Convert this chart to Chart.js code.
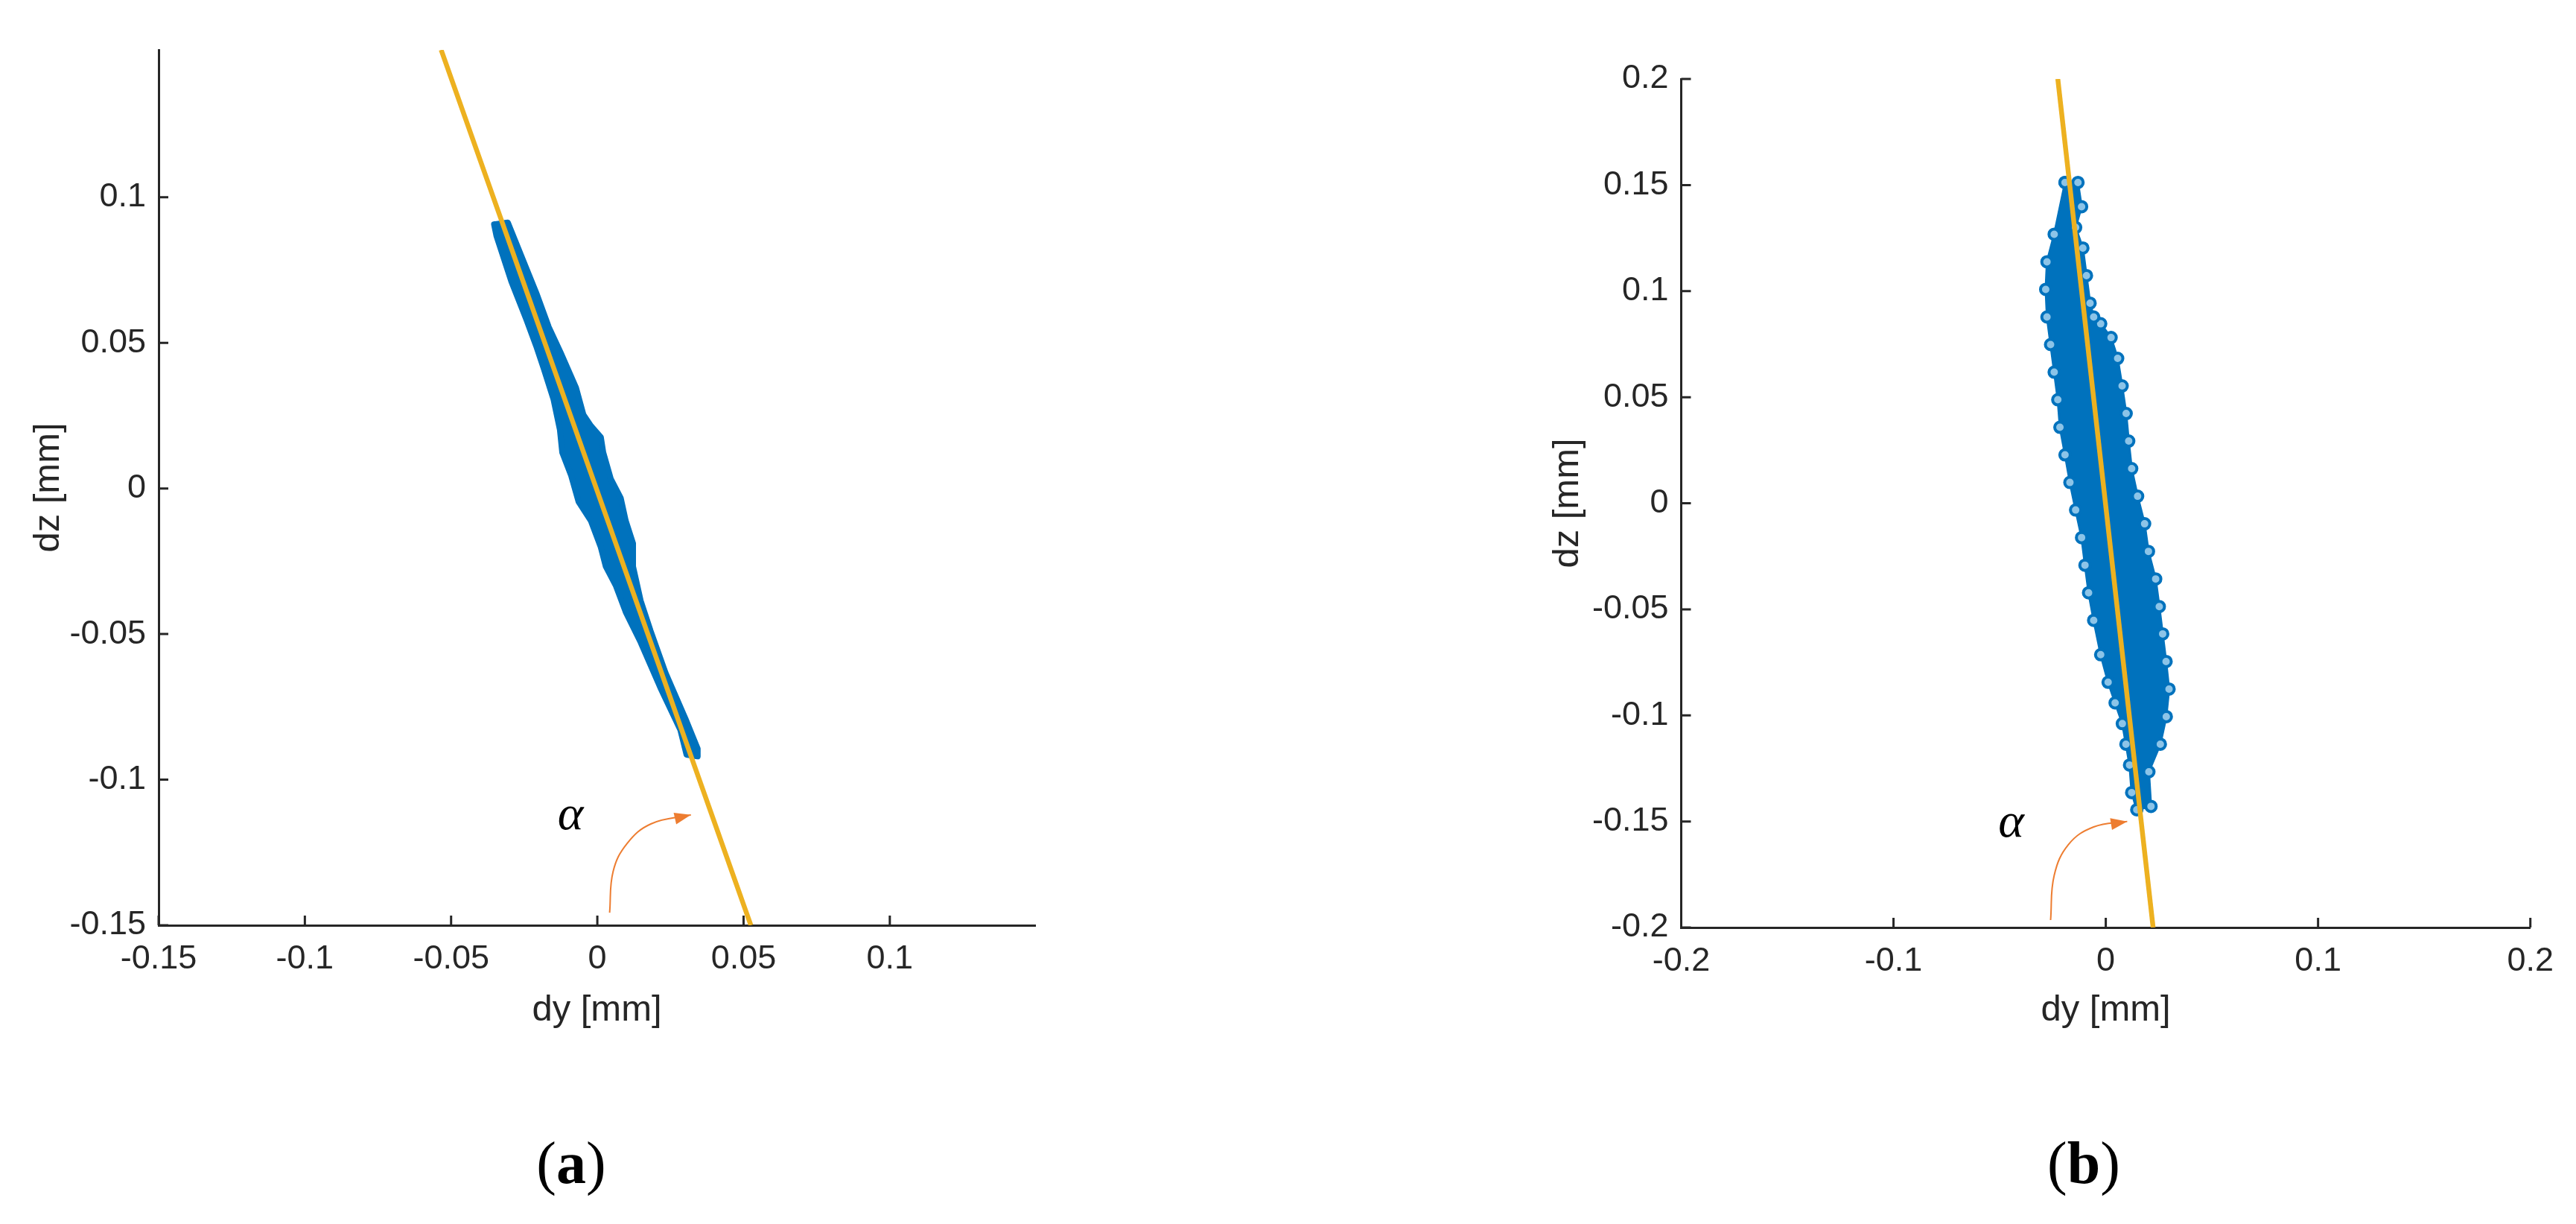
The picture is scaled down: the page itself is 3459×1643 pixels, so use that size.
<!DOCTYPE html>
<html lang="en">
<head>
<meta charset="UTF-8" />
<title>dy / dz displacement scatter</title>
<script src="https://cdn.jsdelivr.net/npm/chart.js"></script>
<style>
  html, body { margin: 0; padding: 0; background: #ffffff; }
  body { width: 3459px; height: 1643px; position: relative; overflow: hidden; }
  .panel { position: absolute; top: 0; height: 1643px; }
  #panelA { left: 0; width: 1729px; }
  #panelB { left: 1729px; width: 1730px; }
  .sub {
    position: absolute;
    top: 1521px;
    font-family: "Liberation Serif", "Times New Roman", serif;
    font-size: 80px;
    line-height: 1;
    color: #000;
    transform: translateX(-50%);
    white-space: nowrap;
  }
  #subA { left: 767px; }
  #subB { left: 2798px; }
</style>
</head>
<body>
  <div class="panel" id="panelA"><canvas id="chartA"></canvas></div>
  <div class="panel" id="panelB"><canvas id="chartB"></canvas></div>
  <div class="sub" id="subA">(<b>a</b>)</div>
  <div class="sub" id="subB">(<b>b</b>)</div>

<script>
// ---- panel (a) ----
const xLimA = [-0.15, 0.1497];
const yLimA = [-0.15, 0.1506];
const xTicksA = [-0.15, -0.1, -0.05, 0, 0.05, 0.1];
const yTicksA = [-0.15, -0.1, -0.05, 0, 0.05, 0.1];
const cloudA = [
  [-0.0353, 0.0907], [-0.0345, 0.0868], [-0.0294, 0.0711], [-0.0243, 0.0581],
  [-0.0209, 0.0489], [-0.0183, 0.0411], [-0.0150, 0.0307], [-0.0128, 0.0202],
  [-0.0120, 0.0124], [-0.0090, 0.0046], [-0.0064, -0.0046], [-0.0022, -0.0111],
  [0.0012, -0.0202], [0.0029, -0.0268], [0.0063, -0.0333], [0.0097, -0.0424],
  [0.0148, -0.0528], [0.0216, -0.0685], [0.0284, -0.0829], [0.0305, -0.0914],
  [0.0343, -0.0920], [0.0343, -0.0894], [0.0301, -0.0790], [0.0233, -0.0633],
  [0.0182, -0.0489], [0.0148, -0.0385], [0.0122, -0.0268], [0.0122, -0.0189],
  [0.0097, -0.0111], [0.0080, -0.0033], [0.0046, 0.0033], [0.0020, 0.0124],
  [0.0012, 0.0176], [-0.0022, 0.0215], [-0.0048, 0.0254], [-0.0073, 0.0346],
  [-0.0090, 0.0385], [-0.0124, 0.0463], [-0.0166, 0.0554], [-0.0209, 0.0672],
  [-0.0251, 0.0776], [-0.0306, 0.0913], [-0.0353, 0.0907]
];
const fitLineA = [[-0.0534, 0.1506], [0.0525, -0.15]];
const arrowA = [[0.0042, -0.1457], [0.0054, -0.1315], [0.0101, -0.1220], [0.0183, -0.1152], [0.0320, -0.1121]];
const alphaA = [-0.0092, -0.1126];

// ---- panel (b) ----
const xLimB = [-0.2, 0.2];
const yLimB = [-0.2, 0.2];
const xTicksB = [-0.2, -0.1, 0, 0.1, 0.2];
const yTicksB = [-0.2, -0.15, -0.1, -0.05, 0, 0.05, 0.1, 0.15, 0.2];
const cloudB = [
  [-0.0192, 0.1512], [-0.0243, 0.1268], [-0.0277, 0.1138], [-0.0283, 0.1008],
  [-0.0277, 0.0878], [-0.0260, 0.0748], [-0.0243, 0.0618], [-0.0226, 0.0488],
  [-0.0216, 0.0358], [-0.0192, 0.0228], [-0.0169, 0.0098], [-0.0142, -0.0032],
  [-0.0114, -0.0162], [-0.0098, -0.0292], [-0.0081, -0.0422], [-0.0057, -0.0552],
  [-0.0024, -0.0714], [0.0011, -0.0844], [0.0044, -0.0941], [0.0078, -0.1039],
  [0.0095, -0.1136], [0.0112, -0.1234], [0.0122, -0.1364], [0.0146, -0.1445],
  [0.0213, -0.1429], [0.0203, -0.1266], [0.0257, -0.1136], [0.0285, -0.1006],
  [0.0298, -0.0876], [0.0284, -0.0746], [0.0268, -0.0616], [0.0252, -0.0487],
  [0.0235, -0.0357], [0.0201, -0.0227], [0.0183, -0.0097], [0.0150, 0.0033],
  [0.0122, 0.0163], [0.0108, 0.0293], [0.0096, 0.0423], [0.0077, 0.0553],
  [0.0056, 0.0683], [0.0025, 0.0781], [-0.0024, 0.0846], [-0.0057, 0.0878],
  [-0.0074, 0.0943], [-0.0091, 0.1073], [-0.0108, 0.1203], [-0.0142, 0.1300],
  [-0.0114, 0.1398], [-0.0131, 0.1512], [-0.0192, 0.1512]
];
const fitLineB = [[-0.0226, 0.2], [0.0223, -0.2]];
const arrowB = [[-0.0260, -0.1965], [-0.0243, -0.1754], [-0.0175, -0.1608], [-0.0057, -0.1526], [0.0101, -0.1500]];
const alphaB = [-0.0446, -0.151];

const AXIS_COLOR = "#262626";
const BLUE = "#0072BD";
const YELLOW = "#EDB120";
const ORANGE = "#ED7D31";
const SANS = '"Liberation Sans", Arial, sans-serif';
const TICK_LEN = 13;

function toXY(pairs) {
  return pairs.map(p => ({ x: p[0], y: p[1] }));
}

// matlab style inward ticks, the alpha label and the arrow head
function decorations(arrow, alphaPos) {
  return {
    id: "decorations",
    afterDraw(chart) {
      const { ctx, chartArea: a, scales } = chart;
      const sx = scales.x, sy = scales.y;
      ctx.save();
      ctx.strokeStyle = AXIS_COLOR;
      ctx.lineWidth = 3;
      ctx.beginPath();
      sx.ticks.forEach(t => {
        const px = sx.getPixelForValue(t.value);
        ctx.moveTo(px, a.bottom);
        ctx.lineTo(px, a.bottom - TICK_LEN);
      });
      sy.ticks.forEach(t => {
        const py = sy.getPixelForValue(t.value);
        ctx.moveTo(a.left, py);
        ctx.lineTo(a.left + TICK_LEN, py);
      });
      ctx.stroke();

      const n = arrow.length;
      const x1 = sx.getPixelForValue(arrow[n - 2][0]), y1 = sy.getPixelForValue(arrow[n - 2][1]);
      const x2 = sx.getPixelForValue(arrow[n - 1][0]), y2 = sy.getPixelForValue(arrow[n - 1][1]);
      ctx.translate(x2, y2);
      ctx.rotate(Math.atan2(y2 - y1, x2 - x1));
      ctx.beginPath();
      ctx.moveTo(0, 0);
      ctx.lineTo(-22, -8);
      ctx.lineTo(-22, 8);
      ctx.closePath();
      ctx.fillStyle = ORANGE;
      ctx.fill();
      ctx.setTransform(1, 0, 0, 1, 0, 0);

      ctx.fillStyle = "#000";
      ctx.font = 'italic 66px "Liberation Serif", "Times New Roman", serif';
      ctx.textAlign = "center";
      ctx.textBaseline = "middle";
      ctx.fillText("\u03B1", sx.getPixelForValue(alphaPos[0]), sy.getPixelForValue(alphaPos[1]));
      ctx.restore();
    }
  };
}

function buildChart(id, cfg) {
  return new Chart(document.getElementById(id), {
    type: "scatter",
    data: {
      datasets: [
        {
          data: toXY(cfg.fitLine),
          showLine: true,
          borderColor: YELLOW,
          borderWidth: 6.5,
          pointRadius: 0,
          order: 0
        },
        {
          data: toXY(cfg.arrow),
          showLine: true,
          borderColor: ORANGE,
          borderWidth: 2,
          tension: 0.4,
          pointRadius: 0,
          clip: false,
          order: 1
        },
        {
          data: toXY(cfg.cloud),
          showLine: true,
          fill: "shape",
          backgroundColor: BLUE,
          borderColor: BLUE,
          borderWidth: cfg.cloudBorder,
          borderJoinStyle: "round",
          borderCapStyle: "round",
          tension: 0,
          pointRadius: cfg.ringRadius,
          pointBorderWidth: 4,
          pointBorderColor: BLUE,
          pointBackgroundColor: cfg.ringFill,
          order: 2
        }
      ]
    },
    options: {
      responsive: true,
      maintainAspectRatio: false,
      animation: false,
      events: [],
      layout: { padding: cfg.padding },
      plugins: { legend: { display: false }, tooltip: { enabled: false } },
      scales: {
        x: {
          type: "linear",
          position: "bottom",
          min: cfg.xLim[0],
          max: cfg.xLim[1],
          afterBuildTicks: s => { s.ticks = cfg.xTicks.map(v => ({ value: v })); },
          afterFit: s => { s.height = cfg.xAxisHeight; },
          grid: { display: false, drawTicks: false },
          border: { display: true, color: AXIS_COLOR, width: 3 },
          ticks: {
            color: AXIS_COLOR,
            font: { family: SANS, size: 45 },
            padding: 19,
            maxRotation: 0,
            autoSkip: false,
            callback: v => String(v)
          },
          title: {
            display: true,
            text: "dy [mm]",
            color: AXIS_COLOR,
            font: { family: SANS, size: 49 },
            padding: { top: 0, bottom: cfg.xTitlePad }
          }
        },
        y: {
          type: "linear",
          position: "left",
          min: cfg.yLim[0],
          max: cfg.yLim[1],
          afterBuildTicks: s => { s.ticks = cfg.yTicks.map(v => ({ value: v })); },
          afterFit: s => { s.width = 213; },
          grid: { display: false, drawTicks: false },
          border: { display: true, color: AXIS_COLOR, width: 3 },
          ticks: {
            color: AXIS_COLOR,
            font: { family: SANS, size: 45 },
            padding: 17,
            autoSkip: false,
            callback: v => String(v)
          },
          title: {
            display: true,
            text: "dz [mm]",
            color: AXIS_COLOR,
            font: { family: SANS, size: 49 },
            padding: { top: cfg.yTitlePad, bottom: 0 }
          }
        }
      }
    },
    plugins: [decorations(cfg.arrow, cfg.alpha)]
  });
}

buildChart("chartA", {
  cloud: cloudA, fitLine: fitLineA, arrow: arrowA, alpha: alphaA,
  xLim: xLimA, yLim: yLimA, xTicks: xTicksA, yTicks: yTicksA,
  padding: { left: 0, top: 67, right: 339, bottom: 0 },
  xAxisHeight: 401, xTitlePad: 257.6, yTitlePad: 35.6,
  cloudBorder: 8, ringRadius: 0, ringFill: BLUE
});

buildChart("chartB", {
  cloud: cloudB, fitLine: fitLineB, arrow: arrowB, alpha: alphaB,
  xLim: xLimB, yLim: yLimB, xTicks: xTicksB, yTicks: yTicksB,
  padding: { left: 315.5, top: 106, right: 61.3, bottom: 0 },
  xAxisHeight: 398, xTitlePad: 257.6, yTitlePad: 32,
  cloudBorder: 3, ringRadius: 7, ringFill: "#8cc4e8"
});
</script>
</body>
</html>
